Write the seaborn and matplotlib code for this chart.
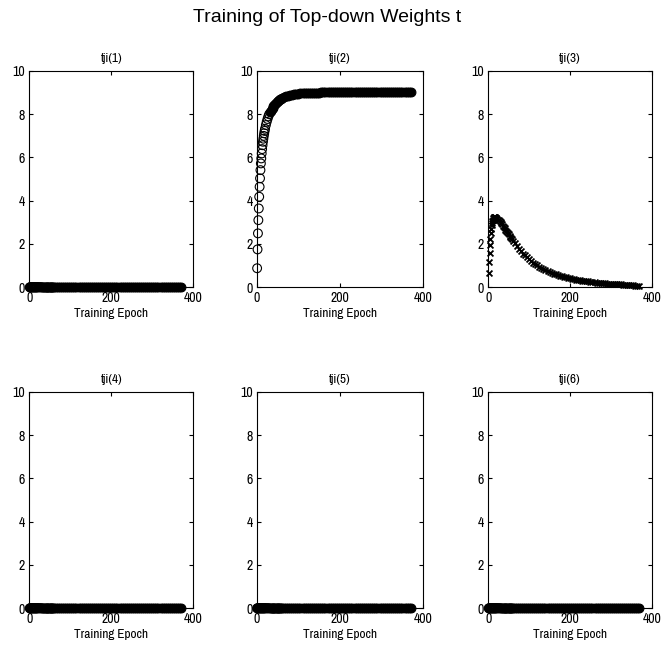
import numpy as np
import pandas as pd
import matplotlib
matplotlib.use("Agg")
import matplotlib.pyplot as plt
import seaborn as sns

epochs = (list(range(1, 21)) + list(range(22, 61, 2)) + list(range(65, 371, 5)))

# tji(2): rises to ~9
tji2 = [0.88, 1.75, 2.49, 3.10, 3.64, 4.18, 4.64, 5.03, 5.41, 5.72,
        5.95, 6.18, 6.38, 6.56, 6.72, 6.86, 6.99, 7.11, 7.22, 7.32,
        7.49, 7.64, 7.77, 7.89, 7.99, 8.08, 8.16, 8.23, 8.30, 8.36,
        8.41, 8.46, 8.51, 8.55, 8.59, 8.62, 8.65, 8.68, 8.71, 8.73,
        8.78, 8.82, 8.85, 8.88, 8.90, 8.92, 8.93, 8.94, 8.95, 8.96,
        8.97, 8.97, 8.98, 8.98, 8.98, 8.99, 8.99, 8.99] + [9.0] * 44

# tji(3): peaks near 3.2 then decays
tji3 = [0.65, 1.15, 1.60, 1.95, 2.25, 2.50, 2.70, 2.86, 2.98, 3.07,
        3.13, 3.18, 3.21, 3.23, 3.24, 3.24, 3.23, 3.22, 3.21, 3.20,
        3.17, 3.13, 3.09, 3.05, 3.00, 2.95, 2.90, 2.84, 2.78, 2.72,
        2.66, 2.60, 2.55, 2.49, 2.44, 2.38, 2.33, 2.27, 2.22, 2.16,
        2.03, 1.90, 1.78, 1.67, 1.56, 1.47, 1.38, 1.29, 1.22, 1.14,
        1.07, 1.01, 0.95, 0.89, 0.84, 0.79, 0.75, 0.71, 0.67, 0.63,
        0.60, 0.57, 0.54, 0.51, 0.48, 0.46, 0.44, 0.42, 0.40, 0.38,
        0.36, 0.34, 0.32, 0.31, 0.29, 0.28, 0.27, 0.25, 0.24, 0.23,
        0.22, 0.21, 0.20, 0.19, 0.18, 0.17, 0.165, 0.16, 0.15, 0.15,
        0.14, 0.14, 0.13, 0.12, 0.12, 0.11, 0.10, 0.10, 0.09, 0.08,
        0.08, 0.07]

zeros = [0.0] * len(epochs)

titles = ["tji(1)", "tji(2)", "tji(3)", "tji(4)", "tji(5)", "tji(6)"]
series = [zeros, tji2, tji3, zeros, zeros, zeros]
markers = ["o", "o", "x", "o", "o", "o"]
x_ticks = [0, 200, 400]
y_ticks = [0, 2, 4, 6, 8, 10]

sns.set_style("ticks")
plt.rcParams["font.family"] = ["Archivo Narrow", "Liberation Sans", "DejaVu Sans"]
plt.rcParams["text.color"] = "black"
plt.rcParams["axes.labelcolor"] = "black"

W, H = 662, 649
fig = plt.figure(figsize=(W / 100, H / 100), dpi=100)

cols = [(29.3, 193.3), (256.7, 423.3), (488.3, 651.7)]
rows = [(70.7, 287.3), (391.7, 608.3)]

for i in range(6):
    r, c = divmod(i, 3)
    x0, x1 = cols[c]
    y0, y1 = rows[r]
    ax = fig.add_axes([x0 / W, (H - y1) / H, (x1 - x0) / W, (y1 - y0) / H])
    df = pd.DataFrame({"epoch": epochs, "w": series[i]})
    sparse = df[df["epoch"] <= 30]
    dense = df[df["epoch"] > 30]
    # the crowded tail is filled so it reads as the solid band of the original
    for part, face in [(sparse, "none"), (dense, "black")]:
        if markers[i] == "o":
            sns.scatterplot(data=part, x="epoch", y="w", ax=ax, marker="o", s=40,
                            facecolors=face, edgecolor="black", linewidth=0.8,
                            clip_on=False, zorder=3)
        else:
            sns.scatterplot(data=part, x="epoch", y="w", ax=ax, marker="x", s=18,
                            color="black", linewidth=1.3, clip_on=False, zorder=3)
    ax.set_xlim(0, 400)
    ax.set_ylim(0, 10)
    ax.set_xticks(x_ticks)
    ax.set_yticks(y_ticks)
    ax.tick_params(direction="in", length=3, width=0.8, top=True, right=True,
                   labelsize=10, pad=3, colors="black")
    for sp in ax.spines.values():
        sp.set_visible(True)
        sp.set_linewidth(0.8)
        sp.set_color("black")
    ax.set_title(titles[i], fontsize=9.5, pad=6, color="black")
    ax.set_xlabel("Training Epoch", fontsize=9.5, labelpad=2)
    ax.set_ylabel("")

fig.text(327 / W, 1 - 18 / H, "Training of Top-down Weights t", ha="center",
         va="center", fontsize=14, color="black",
         family=["Liberation Sans", "DejaVu Sans"])

fig.savefig("out.png", dpi=100, facecolor="white")
